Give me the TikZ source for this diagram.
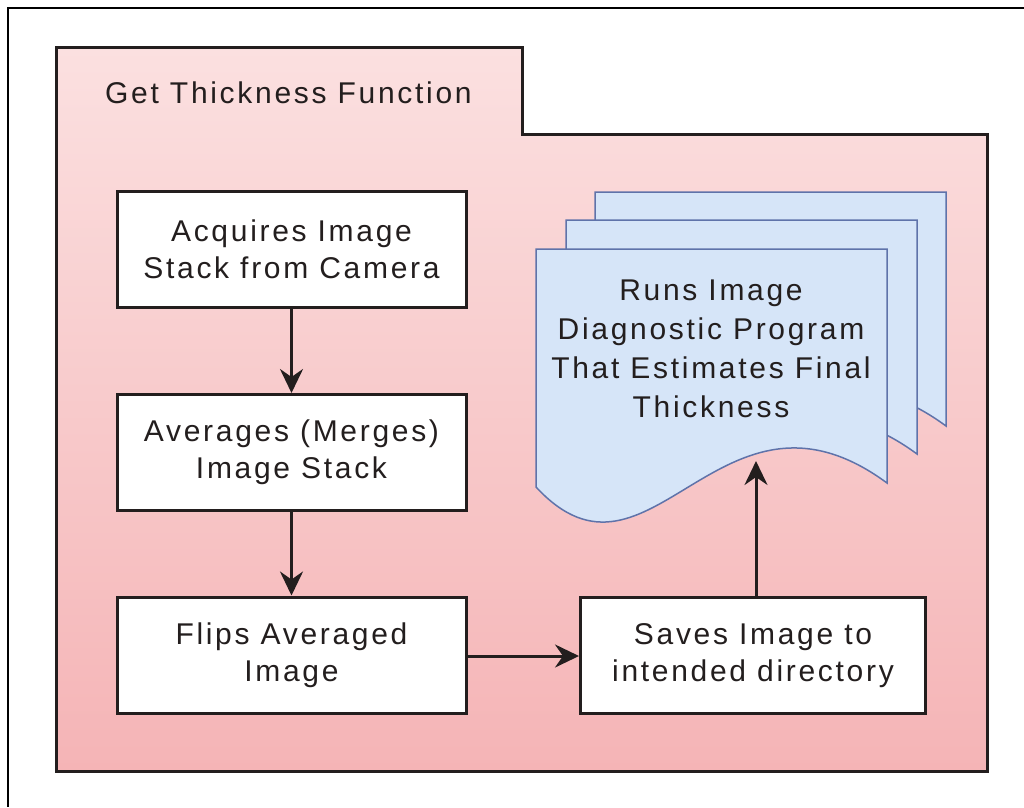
\documentclass[tikz,border=0pt]{standalone}
\usepackage{fontspec}
\setmainfont[LetterSpace=9]{Liberation Sans}
\usetikzlibrary{arrows.meta}
\definecolor{pinktop}{RGB}{251,224,224}
\definecolor{pinkbot}{RGB}{245,180,182}
\definecolor{docfill}{RGB}{214,229,248}
\definecolor{docline}{RGB}{95,115,170}
\definecolor{inkc}{RGB}{35,30,30}
\tikzset{
  stepbox/.style={draw=inkc, line width=3pt, fill=white, minimum width=349pt, minimum height=116pt, inner sep=0pt, align=center, font=\fontsize{30}{37}\selectfont, text=inkc},
  conn/.style={draw=inkc, line width=3pt, -{Stealth[length=24pt,width=23pt,inset=8pt]}},
  docshape/.style={draw=docline, line width=1.5pt, fill=docfill},
  frameline/.style={draw=black, line width=2.2pt}
}
\begin{document}
\begin{tikzpicture}[x=1pt,y=-1pt]
\useasboundingbox (0,0) rectangle (1024,807);
\fill[white] (0,0) rectangle (1024,807);
% outer frame (only top and left visible)
\draw[frameline] (1024,8) -- (8,8) -- (8,807);
% folder
\shade[top color=pinktop, bottom color=pinkbot] (56,47) -- (522,47) -- (522,134) -- (987,134) -- (987,771) -- (56,771) -- cycle;
\draw[draw=inkc, line width=3pt, line join=miter] (56,47) -- (522,47) -- (522,134) -- (987,134) -- (987,771) -- (56,771) -- cycle;
\node[anchor=west, font=\fontsize{30}{34}\selectfont, text=inkc, inner sep=0pt] (title) at (105,93) {Get Thickness Function};
% documents
\foreach \dx/\dy in {59/-57, 30/-29, 0/0}{
  \begin{scope}[shift={(\dx,\dy)}]
  \draw[docshape] (536,249) -- (887,249) -- (887,483) .. controls (720,360) and (650,610) .. (536,487) -- cycle;
  \end{scope}
}
\node[align=center, font=\fontsize{30}{39}\selectfont, text=inkc, inner sep=0pt] (doc) at (711,349) {Runs Image\\Diagnostic Program\\That Estimates Final\\Thickness};
\coordinate (docin) at (756,461);
% steps
\node[stepbox] (s1) at (291.5,249) {Acquires Image\\Stack from Camera};
\node[stepbox] (s2) at (291.5,452.5) {Averages (Merges)\\Image Stack};
\node[stepbox] (s3) at (291.5,655) {Flips Averaged\\Image};
\node[stepbox, minimum width=345pt] (s4) at (753,655.5) {Saves Image to\\intended directory};
\draw[conn] (s1) -- (s2);
\draw[conn] (s2) -- (s3);
\draw[conn] (s3.east |- 0,656) -- (s4.west |- 0,656);
\draw[conn] (s4.north -| docin) -- (docin);
\end{tikzpicture}
\end{document}
